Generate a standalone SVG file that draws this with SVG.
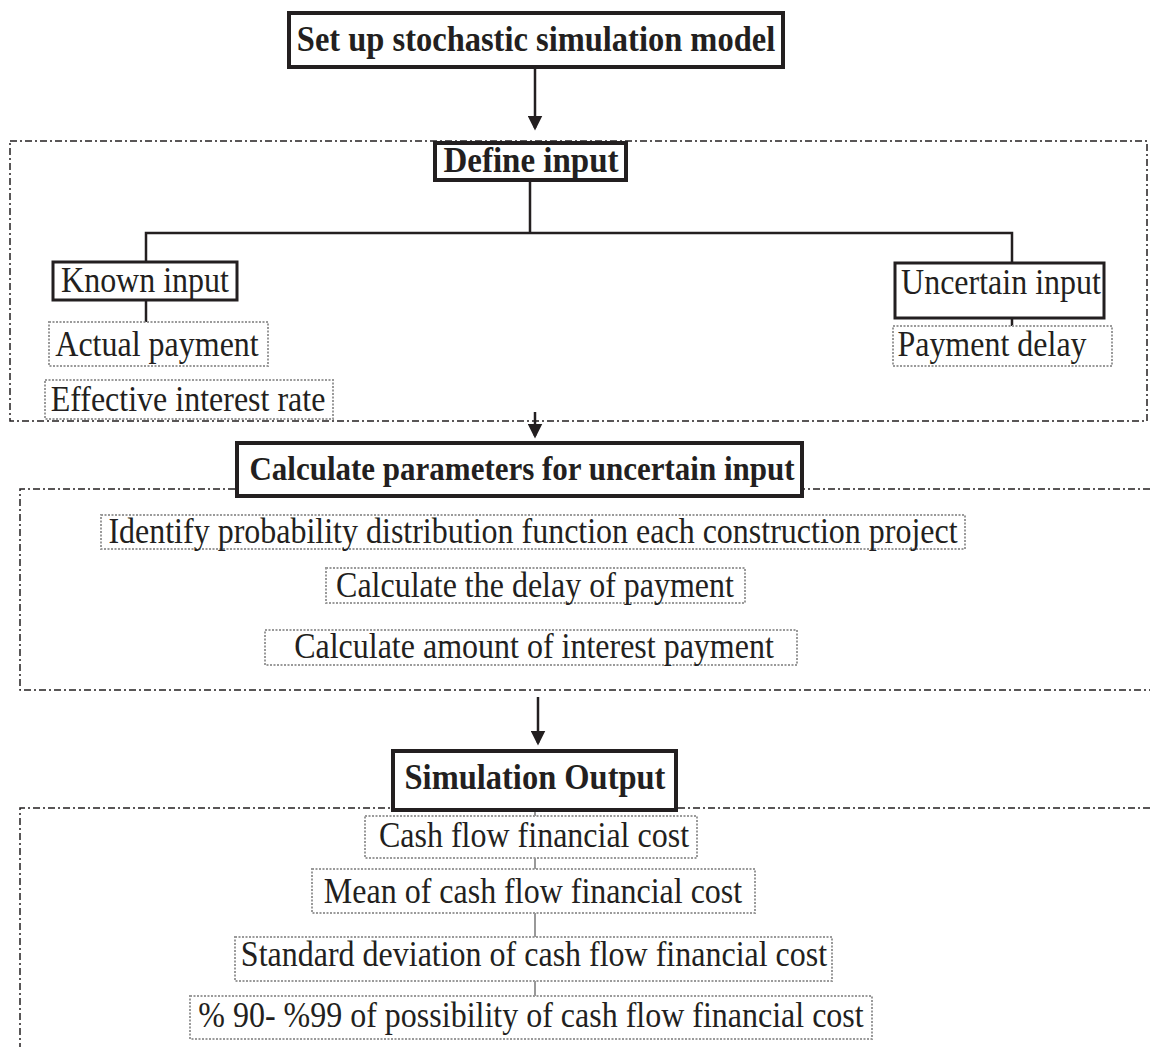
<svg xmlns="http://www.w3.org/2000/svg" width="1150" height="1047" viewBox="0 0 1150 1047">
<defs>
<style>
.bold{font-family:"Liberation Serif","Times New Roman",serif;font-weight:bold;font-size:32.5px;fill:#231f20;text-anchor:middle}
.reg{font-family:"Liberation Serif","Times New Roman",serif;font-size:32px;fill:#231f20;text-anchor:middle}
.thick{fill:#fff;stroke:#231f20;stroke-width:4}
.mid{fill:#fff;stroke:#231f20;stroke-width:3}
.dot{fill:#fff;stroke:#9a9a9a;stroke-width:2;stroke-dasharray:2 1.5}
.sec{fill:none;stroke:#231f20;stroke-width:1.5;stroke-dasharray:7 3 2 3}
.ln{fill:none;stroke:#231f20;stroke-width:2.5}
.thin{fill:none;stroke:#555;stroke-width:1.2}
</style>
<marker id="ah" markerWidth="6" markerHeight="6" refX="5" refY="3" orient="auto" markerUnits="strokeWidth">
<path d="M0,0 L6,3 L0,6 z" fill="#231f20"/>
</marker>
</defs>
<rect width="1150" height="1047" fill="#fff"/>
<g id="sections">
<rect class="sec" x="10" y="141" width="1137" height="280"/>
<path class="sec" d="M1150,489 H20 V690 H1150"/>
<path class="sec" d="M1150,808 H20 V1047"/>
</g>
<g id="connectors">
<line class="ln" x1="535" y1="66" x2="535" y2="128" marker-end="url(#ah)"/>
<line class="ln" x1="535" y1="412" x2="535" y2="436" marker-end="url(#ah)"/>
<line class="ln" x1="538" y1="697" x2="538" y2="743" marker-end="url(#ah)"/>
<path class="ln" d="M530,180 V233 M146,262 V233 H1012 V263"/>
<line class="ln" x1="146" y1="300" x2="146" y2="322"/>
<line class="ln" x1="1012" y1="318" x2="1012" y2="326"/>
<path class="thin" d="M535,810 V816 M535,858 V869 M535,913 V937 M535,981 V996"/>
</g>
<g id="n1"><rect class="thick" x="289" y="13" width="494" height="54"/><text class="bold" transform="translate(536,51) scale(1,1.08)">Set up stochastic simulation model</text></g>
<g id="n2"><rect class="thick" x="435" y="143" width="191" height="37"/><text class="bold" transform="translate(531,172) scale(1,1.08)" style="font-size:33px">Define input</text></g>
<g id="n3"><rect class="mid" x="53" y="262" width="184" height="38"/><text class="reg" transform="translate(145,292) scale(1,1.1)">Known input</text></g>
<g id="n4"><rect class="dot" x="49" y="322" width="219" height="44"/><text class="reg" transform="translate(157,356) scale(1,1.1)">Actual payment</text></g>
<g id="n5"><rect class="dot" x="45" y="380" width="288" height="39"/><text class="reg" transform="translate(188,411) scale(1,1.1)">Effective interest rate</text></g>
<g id="n6"><rect class="mid" x="895" y="263" width="209" height="55"/><text class="reg" transform="translate(1001,294) scale(1,1.1)">Uncertain input</text></g>
<g id="n7"><rect class="dot" x="893" y="326" width="219" height="40"/><text class="reg" transform="translate(992,356) scale(1,1.1)">Payment delay</text></g>
<g id="n8"><rect class="thick" x="237" y="443" width="565" height="53"/><text class="bold" transform="translate(522,480) scale(1,1.08)" style="font-size:31px">Calculate parameters for uncertain input</text></g>
<g id="n9"><rect class="dot" x="101" y="515" width="864" height="34"/><text class="reg" transform="translate(533,543) scale(1,1.1)">Identify probability distribution function each construction project</text></g>
<g id="n10"><rect class="dot" x="326" y="568" width="419" height="35"/><text class="reg" transform="translate(535,597) scale(1,1.1)">Calculate the delay of payment</text></g>
<g id="n11"><rect class="dot" x="265" y="630" width="532" height="35"/><text class="reg" transform="translate(534,658) scale(1,1.1)">Calculate amount of interest payment</text></g>
<g id="n12"><rect class="thick" x="393" y="751" width="283" height="59"/><text class="bold" transform="translate(535,789) scale(1,1.08)">Simulation Output</text></g>
<g id="n13"><rect class="dot" x="365" y="816" width="332" height="42"/><text class="reg" transform="translate(534,847) scale(1,1.1)">Cash flow financial cost</text></g>
<g id="n14"><rect class="dot" x="312" y="869" width="443" height="44"/><text class="reg" transform="translate(533,903) scale(1,1.1)">Mean of cash flow financial cost</text></g>
<g id="n15"><rect class="dot" x="235" y="937" width="597" height="44"/><text class="reg" transform="translate(534,966) scale(1,1.1)">Standard deviation of cash flow financial cost</text></g>
<g id="n16"><rect class="dot" x="190" y="996" width="682" height="43"/><text class="reg" transform="translate(531,1027) scale(1,1.1)">% 90- %99 of possibility of cash flow financial cost</text></g>
</svg>
